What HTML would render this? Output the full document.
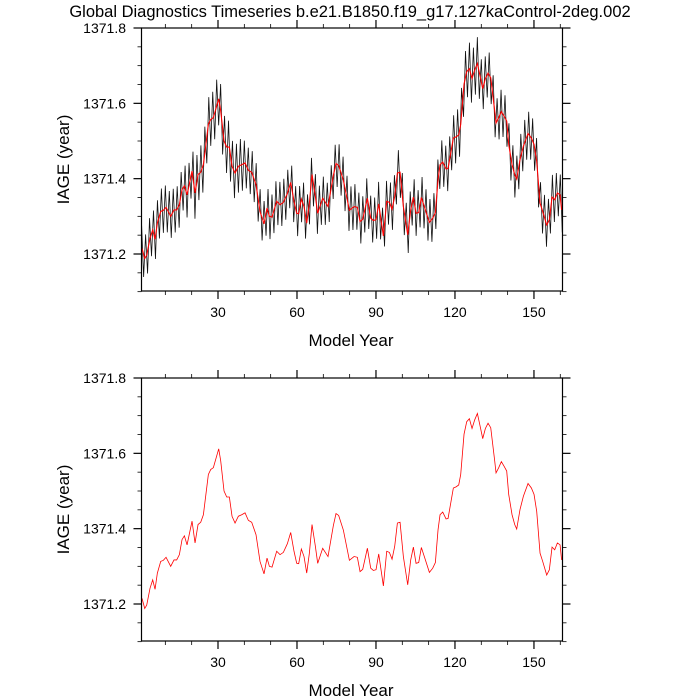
<!DOCTYPE html>
<html><head><meta charset="utf-8"><style>
body{margin:0;background:#fff;}
svg{display:block;font-family:"Liberation Sans",sans-serif;}
</style></head><body>
<svg id="chart" width="700" height="700"></svg>
<script>
const annualYears=[1.15,2.17,2.93,4.19,5.2,6.09,6.97,8.24,9.25,10.27,12.04,13.29,14.3,15.33,16.34,17.23,18.25,20.14,21.28,22.42,23.43,24.45,26.34,27.23,28.24,30.27,31.03,32.29,33.31,34.32,35.33,36.47,37.74,39.0,40.27,41.53,42.8,44.44,45.96,47.48,48.62,49.51,50.52,52.29,53.56,54.82,56.34,57.61,58.87,59.89,60.65,61.66,62.67,63.69,64.7,65.71,66.98,67.86,69.76,71.78,73.8,74.82,75.83,77.62,79.9,81.67,82.93,83.95,84.96,86.73,88.0,89.01,90.02,91.04,92.81,94.08,95.09,96.1,97.11,98.13,99.14,100.4,102.05,103.19,104.2,105.22,106.23,107.24,108.76,110.28,111.55,112.56,113.57,114.33,115.35,116.61,117.37,119.39,120.41,121.42,122.18,123.45,124.46,125.47,126.48,127.5,128.51,129.52,130.54,131.55,132.56,133.58,135.09,135.6,136.61,137.62,138.64,139.65,140.41,141.68,142.69,143.45,144.71,145.98,147.75,149.02,150.03,151.04,152.31,153.32,154.84,155.85,156.87,157.88,158.89,159.91,160.5];
const annualValues=[1371.215,1371.188,1371.197,1371.242,1371.264,1371.239,1371.282,1371.313,1371.316,1371.324,1371.300,1371.317,1371.317,1371.331,1371.371,1371.381,1371.357,1371.420,1371.362,1371.411,1371.417,1371.437,1371.544,1371.557,1371.562,1371.612,1371.580,1371.500,1371.484,1371.484,1371.433,1371.415,1371.433,1371.437,1371.442,1371.422,1371.417,1371.384,1371.313,1371.280,1371.322,1371.300,1371.298,1371.340,1371.331,1371.337,1371.360,1371.390,1371.340,1371.308,1371.307,1371.346,1371.326,1371.282,1371.335,1371.411,1371.353,1371.308,1371.348,1371.326,1371.408,1371.440,1371.435,1371.396,1371.316,1371.326,1371.324,1371.286,1371.292,1371.348,1371.295,1371.289,1371.291,1371.333,1371.248,1371.340,1371.337,1371.319,1371.353,1371.415,1371.417,1371.326,1371.251,1371.317,1371.351,1371.308,1371.310,1371.350,1371.317,1371.284,1371.295,1371.310,1371.397,1371.437,1371.444,1371.426,1371.427,1371.508,1371.511,1371.516,1371.544,1371.651,1371.684,1371.692,1371.666,1371.689,1371.706,1371.673,1371.639,1371.666,1371.680,1371.668,1371.580,1371.548,1371.562,1371.578,1371.566,1371.553,1371.491,1371.437,1371.411,1371.399,1371.451,1371.486,1371.520,1371.508,1371.491,1371.446,1371.335,1371.313,1371.277,1371.291,1371.351,1371.344,1371.362,1371.357,1371.317];
const noiseAmp=[0.06,0.06,0.07,0.07,0.06,0.06,0.06,0.06,0.06,0.06,0.06,0.06,0.07,0.06,0.06,0.06,0.06];
const yTickLabels=["1371.2","1371.4","1371.6","1371.8"];
const yTickValues=[1371.2,1371.4,1371.6,1371.8];
const xTickLabels=["30","60","90","120","150"];
const xTickValues=[30,60,90,120,150];

const NS="http://www.w3.org/2000/svg";
const svg=document.getElementById('chart');
const X0=141.5,X1=562.5;
function xs(yr){return 218+(yr-30)*2.633;}
function mk(tag,attrs,parent){const e=document.createElementNS(NS,tag);for(const k in attrs)e.setAttribute(k,attrs[k]);(parent||svg).appendChild(e);return e;}
function interp(yr){
  if(yr<=annualYears[0])return annualValues[0];
  for(let i=1;i<annualYears.length;i++){if(yr<=annualYears[i]){const t=(yr-annualYears[i-1])/(annualYears[i]-annualYears[i-1]);return annualValues[i-1]+t*(annualValues[i]-annualValues[i-1]);}}
  return annualValues[annualValues.length-1];
}

const title=mk('text',{x:350,y:17,'text-anchor':'middle','font-size':16.5,fill:'#000'});


title.textContent='Global Diagnostics Timeseries b.e21.B1850.f19_g17.127kaControl-2deg.002';

function panel(top,name,withBlack){
  const bottom=top+263;
  const ys=v=>top+(1371.8-v)*(226/0.6);
  const g=mk('g',{});
  
  
  const clipId=name+'-clip';
  const cp=mk('clipPath',{id:clipId},g);mk('rect',{x:X0,y:top,width:X1-X0,height:bottom-top},cp);
  if(withBlack){
    let d='';let k=0;
    for(let yr=1;yr<=161;yr+=0.75){
      const idx=Math.min(noiseAmp.length-1,Math.floor(yr/10));
      const sgn=(k%2===0)?1:-1;
      const v=interp(yr)+sgn*noiseAmp[idx];
      d+=(k?'L':'M')+xs(yr).toFixed(2)+','+ys(v).toFixed(2);k++;
    }
    const bl=mk('path',{d:d,fill:'none',stroke:'#111','stroke-width':0.8,'clip-path':'url(#'+clipId+')'},g);
    
    
  }
  let d2='';
  annualYears.forEach((yr,i)=>{d2+=(i?'L':'M')+xs(yr).toFixed(2)+','+ys(annualValues[i]).toFixed(2);});
  const rl=mk('path',{d:d2,fill:'none',stroke:'#ff0000','stroke-width':withBlack?1.1:0.8,'clip-path':'url(#'+clipId+')'},g);
  
  
  const fr=mk('rect',{x:X0,y:top,width:X1-X0,height:bottom-top,fill:'none',stroke:'#000','stroke-width':1.2},g);
  
  
  for(let v=1371.1;v<=1371.801;v+=0.05){
    const y=ys(v);const major=Math.abs((v-1371.2)/0.2-Math.round((v-1371.2)/0.2))<0.01;
    const L=major?8:4;
    mk('line',{x1:X0-L,x2:X0,y1:y,y2:y,stroke:'#000','stroke-width':major?1.2:0.8},g);
    mk('line',{x1:X1,x2:X1+L,y1:y,y2:y,stroke:'#000','stroke-width':major?1.2:0.8},g);
  }
  yTickValues.forEach((v,i)=>{
    const t=mk('text',{x:126,y:ys(v)+5,'text-anchor':'end','font-size':14},g);
    
    
    t.textContent=yTickLabels[i];
  });
  for(let yr=10;yr<=160;yr+=10){
    const x=xs(yr);const major=yr%30===0;const L=major?8:4;
    mk('line',{x1:x,x2:x,y1:bottom,y2:bottom+L,stroke:'#000','stroke-width':major?1.2:0.8},g);
    mk('line',{x1:x,x2:x,y1:top-L,y2:top,stroke:'#000','stroke-width':major?1.2:0.8},g);
  }
  xTickValues.forEach((v,i)=>{
    const t=mk('text',{x:xs(v),y:bottom+26,'text-anchor':'middle','font-size':14},g);
    
    
    t.textContent=xTickLabels[i];
  });
  const xl=mk('text',{x:351,y:bottom+55,'text-anchor':'middle','font-size':17},g);
  
  
  xl.textContent='Model Year';
  const cy=(top+bottom)/2;
  const yl=mk('text',{x:69,y:cy,'text-anchor':'middle','font-size':17,transform:'rotate(-90 69 '+cy+')'},g);
  
  
  yl.textContent='IAGE (year)';
}
panel(28,'top-panel',true);
panel(378,'bottom-panel',false);
</script>
</body></html>
